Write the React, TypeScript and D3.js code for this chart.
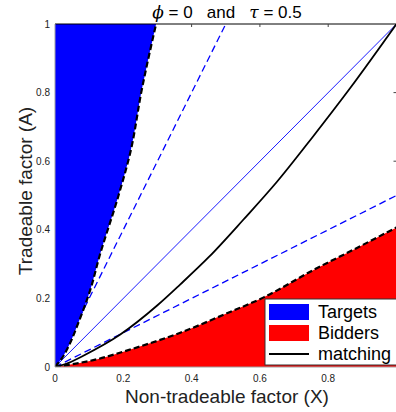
import React from "react";
import * as d3 from "d3";

// Data
const targetBoundary: [number, number][] = [
  [0, 0], [0.02, 0.025], [0.039, 0.059], [0.068, 0.128], [0.103, 0.224], [0.13, 0.322],
  [0.186, 0.5], [0.22, 0.623], [0.254, 0.808], [0.296, 1],
];
const bidderBoundary: [number, number][] = [
  [0, 0], [0.05, 0.008], [0.112, 0.02], [0.23, 0.054], [0.367, 0.1], [0.5, 0.155],
  [0.611, 0.203], [0.757, 0.283], [0.88, 0.345], [1, 0.407],
];
const matching: [number, number][] = [
  [0, 0], [0.04, 0.012], [0.083, 0.033], [0.19, 0.094], [0.3, 0.18], [0.367, 0.241],
  [0.45, 0.32], [0.552, 0.43], [0.65, 0.54], [0.754, 0.67], [0.865, 0.814], [1, 1],
];
const steepRay: [number, number][] = [[0, 0], [0.5, 1]];
const diagonal: [number, number][] = [[0, 0], [1, 1]];
const shallowRay: [number, number][] = [[0, 0], [1, 0.5]];

const xTicks = [0, 0.2, 0.4, 0.6, 0.8];
const yTicks = [0, 0.2, 0.4, 0.6, 0.8, 1];
const xTickLabels = ["0", "0.2", "0.4", "0.6", "0.8"];
const yTickLabels = ["0", "0.2", "0.4", "0.6", "0.8", "1"];
const legendLabels = ["Targets", "Bidders", "matching"];

const W = 396, H = 412;
const L = 55, R = 396.5, T = 24, B = 367;

export default function App() {
  const x = d3.scaleLinear().domain([0, 1]).range([L, R]);
  const y = d3.scaleLinear().domain([0, 1]).range([B, T]);
  const line = d3.line<[number, number]>().x(d => x(d[0])).y(d => y(d[1])).curve(d3.curveMonotoneX);
  const straight = d3.line<[number, number]>().x(d => x(d[0])).y(d => y(d[1]));

  const targetArea = d3.area<[number, number]>()
    .y(d => y(d[1])).x0(x(0)).x1(d => x(d[0])).curve(d3.curveMonotoneY);
  const bidderArea = d3.area<[number, number]>()
    .x(d => x(d[0])).y0(y(0)).y1(d => y(d[1])).curve(d3.curveMonotoneX);
  const targetLine = d3.line<[number, number]>().x(d => x(d[0])).y(d => y(d[1])).curve(d3.curveMonotoneY);

  const tickFont = "'Liberation Sans', Arial, sans-serif";
  const labFont = "'Liberation Sans', Arial, sans-serif";

  return (
    <svg width={W} height={H} style={{ position: "absolute", left: 0, top: 0, background: "#fff" }}>
      <defs>
        <clipPath id="plot"><rect x={L} y={T} width={R - L} height={B - T} /></clipPath>
      </defs>
      <rect x={0} y={0} width={W} height={H} fill="#fff" />
      <g clipPath="url(#plot)">
        <path d={targetArea(targetBoundary) || ""} fill="#0000ff" />
        <path d={bidderArea(bidderBoundary) || ""} fill="#ff0000" />
        <path d={straight(steepRay) || ""} fill="none" stroke="#0000ff" strokeWidth={1.3} strokeDasharray="7,4" />
        <path d={straight(shallowRay) || ""} fill="none" stroke="#0000ff" strokeWidth={1.3} strokeDasharray="7,4" />
        <path d={straight(diagonal) || ""} fill="none" stroke="#0000ff" strokeWidth={0.9} />
        <path d={line(matching) || ""} fill="none" stroke="#000" strokeWidth={1.8} />
        <path d={targetLine(targetBoundary) || ""} fill="none" stroke="#000" strokeWidth={2.2} strokeDasharray="6,3" />
        <path d={line(bidderBoundary) || ""} fill="none" stroke="#000" strokeWidth={2.2} strokeDasharray="6,3" />
      </g>
      {/* axes */}
      <line x1={L} x2={R} y1={T} y2={T} stroke="#000" strokeWidth={1} />
      <line x1={L} x2={L} y1={T} y2={B} stroke="#a0a0a0" strokeWidth={1} />
      <line x1={L} x2={R} y1={B} y2={B} stroke="#a0a0a0" strokeWidth={1} />
      <line x1={R} x2={R} y1={T} y2={B} stroke="#a0a0a0" strokeWidth={1} />
      {xTicks.map((t, i) => (
        <g key={"xt" + i}>
          {t > 0 && x(t) > x(0.3) ? (
            <line x1={x(t)} x2={x(t)} y1={T} y2={T + 3} stroke="#444" strokeWidth={1} />
          ) : null}
          <text x={x(t)} y={B + 15} fontSize={10} fontFamily={tickFont} textAnchor="middle" fill="#222">{xTickLabels[i]}</text>
        </g>
      ))}
      {yTicks.map((t, i) => (
        <g key={"yt" + i}>
          {t > 0.41 && t < 1 ? (
            <line x1={R - 3} x2={R} y1={y(t)} y2={y(t)} stroke="#444" strokeWidth={1} />
          ) : null}
          <text x={L - 5} y={y(t) + 3.5} fontSize={10} fontFamily={tickFont} textAnchor="end" fill="#222">{yTickLabels[i]}</text>
        </g>
      ))}
      {/* title */}
      <text x={227} y={18} fontSize={17} fontFamily={labFont} textAnchor="middle" fill="#000" style={{ whiteSpace: "pre" }}>
        <tspan fontStyle="italic" fontFamily="'DejaVu Serif', serif">ϕ</tspan>
        <tspan>{" = 0   and   "}</tspan>
        <tspan fontStyle="italic" fontFamily="'DejaVu Serif', serif">τ</tspan>
        <tspan>{" = 0.5"}</tspan>
      </text>
      {/* axis labels */}
      <text x={227} y={403} fontSize={19} fontFamily={labFont} textAnchor="middle" fill="#222">Non-tradeable factor (X)</text>
      <text transform={`translate(32,191) rotate(-90)`} fontSize={19} fontFamily={labFont} textAnchor="middle" fill="#222">Tradeable factor (A)</text>
      {/* legend */}
      <g>
        <rect x={265} y={299} width={140} height={66} fill="#fff" stroke="#333" strokeWidth={1} />
        <rect x={269} y={304} width={40} height={16} fill="#0000ff" />
        <rect x={269} y={325} width={40} height={16} fill="#ff0000" />
        <line x1={269} x2={309} y1={354} y2={354} stroke="#000" strokeWidth={1.8} />
        {legendLabels.map((lab, i) => (
          <text key={lab} x={318} y={318 + i * 21} fontSize={18} fontFamily={labFont} fill="#000">{lab}</text>
        ))}
      </g>
    </svg>
  );
}
